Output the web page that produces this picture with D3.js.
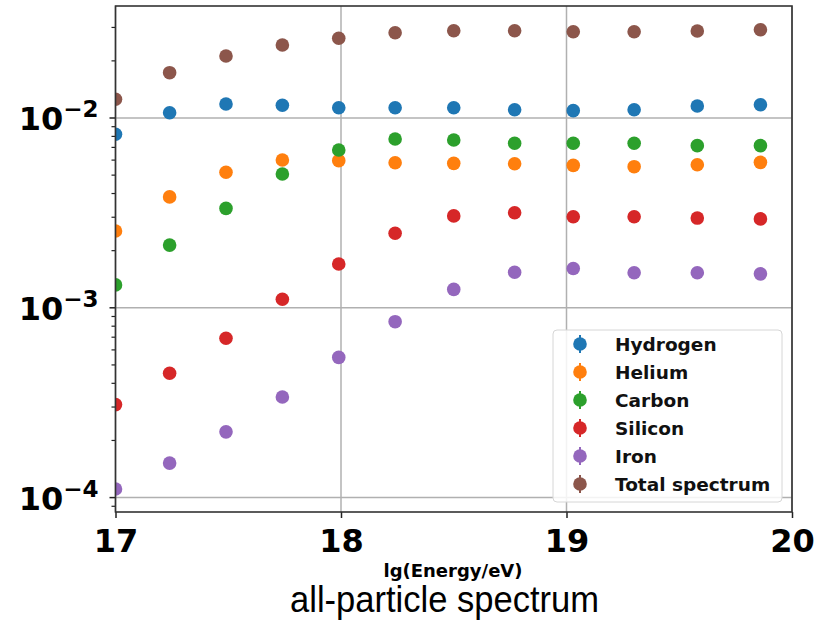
<!DOCTYPE html>
<html>
<head>
<meta charset="utf-8">
<script src="https://cdn.jsdelivr.net/npm/d3@7"></script>
<style>
  body { margin: 0; background: #fff; }
  svg { display: block; }
</style>
</head>
<body>
<div id="chart"></div>
<script>
// bin centres, lg(E/eV)
const energies = [17.0, 17.24, 17.49, 17.74, 17.99, 18.24, 18.5, 18.77, 19.03, 19.3, 19.58, 19.86];

const seriesNames = ['Hydrogen', 'Helium', 'Carbon', 'Silicon', 'Iron', 'Total spectrum'];
const seriesColors = ['#1f77b4', '#ff7f0e', '#2ca02c', '#d62728', '#9467bd', '#8c564b'];

const hydrogen = [0.00821, 0.01066, 0.01185, 0.01167, 0.01133, 0.01133, 0.01133, 0.01106, 0.01093, 0.01106, 0.01157, 0.01175];
const helium = [0.00254, 0.00384, 0.00518, 0.00601, 0.00596, 0.00581, 0.00577, 0.00574, 0.00563, 0.00554, 0.00567, 0.00584];
const carbon = [0.00132, 0.00214, 0.00334, 0.00507, 0.00678, 0.00775, 0.00766, 0.00736, 0.00736, 0.00736, 0.00715, 0.00715];
const silicon = [0.000309, 0.000452, 0.000691, 0.00111, 0.00170, 0.00247, 0.00305, 0.00317, 0.00302, 0.00302, 0.00297, 0.00294];
const iron = [0.000111, 0.000152, 0.000222, 0.000339, 0.000548, 0.000845, 0.00125, 0.00154, 0.00161, 0.00153, 0.00153, 0.00151];
const total = [0.01255, 0.01733, 0.02121, 0.02424, 0.0263, 0.02814, 0.02884, 0.02884, 0.02849, 0.02849, 0.02873, 0.02919];

const seriesValues = [hydrogen, helium, carbon, silicon, iron, total];

const xTicks = [17, 18, 19, 20];
const yTicks = [1e-4, 1e-3, 1e-2];
const yTickExponents = ['\u22124', '\u22123', '\u22122'];

const xLabel = 'lg(Energy/eV)';
const title = 'all-particle spectrum';

const width = 819;
const height = 621;
const plot = { left: 115.5, right: 792, top: 6, bottom: 512 };

const svg = d3
  .select('#chart')
  .append('svg')
  .attr('width', width)
  .attr('height', height);

const x = d3.scaleLinear().domain([17, 20]).range([plot.left, plot.right]);
const y = d3
  .scaleLog()
  .domain([Math.pow(10, -4.0759), Math.pow(10, -1.4099)])
  .range([plot.bottom, plot.top]);

// grid
const grid = svg.append('g').attr('stroke', '#b0b0b0').attr('stroke-width', 1.5);
grid
  .selectAll('line.gx')
  .data(xTicks)
  .join('line')
  .attr('class', 'gx')
  .attr('x1', (d) => x(d))
  .attr('x2', (d) => x(d))
  .attr('y1', plot.top)
  .attr('y2', plot.bottom);
grid
  .selectAll('line.gy')
  .data(yTicks)
  .join('line')
  .attr('class', 'gy')
  .attr('x1', plot.left)
  .attr('x2', plot.right)
  .attr('y1', (d) => y(d))
  .attr('y2', (d) => y(d));

// points, clipped to the axes box
svg
  .append('defs')
  .append('clipPath')
  .attr('id', 'plot-clip')
  .append('rect')
  .attr('x', plot.left)
  .attr('y', plot.top)
  .attr('width', plot.right - plot.left)
  .attr('height', plot.bottom - plot.top);

const points = svg.append('g').attr('clip-path', 'url(#plot-clip)');
seriesValues.forEach((values, i) => {
  points
    .append('g')
    .attr('fill', seriesColors[i])
    .selectAll('circle')
    .data(values.map((v, j) => [energies[j], v]))
    .join('circle')
    .attr('cx', (d) => x(d[0]))
    .attr('cy', (d) => y(d[1]))
    .attr('r', 6.8);
});

// axes
const xAxis = svg
  .append('g')
  .attr('transform', `translate(0, ${plot.bottom})`)
  .call(d3.axisBottom(x).tickValues(xTicks).tickSize(6).tickPadding(10).tickFormat(d3.format('d')));
xAxis.select('.domain').remove();
xAxis.selectAll('line').attr('stroke', '#222').attr('stroke-width', 1.5);
xAxis
  .selectAll('text')
  .attr('fill', '#000')
  .style('font-family', 'DejaVu Sans')
  .style('font-weight', 'bold')
  .style('font-size', '32px')
  .attr('dy', null)
  .attr('y', 40);

const yMinor = [];
for (let e = -5; e <= -1; e++) {
  for (let k = 2; k <= 9; k++) {
    const v = k * Math.pow(10, e);
    if (v >= y.domain()[0] && v <= y.domain()[1]) yMinor.push(v);
  }
}
const yAxis = svg.append('g').attr('transform', `translate(${plot.left}, 0)`);
yAxis
  .selectAll('line.major')
  .data(yTicks)
  .join('line')
  .attr('class', 'major')
  .attr('x1', -6)
  .attr('x2', 0)
  .attr('y1', (d) => y(d))
  .attr('y2', (d) => y(d))
  .attr('stroke', '#222')
  .attr('stroke-width', 1.5);
yAxis
  .selectAll('line.minor')
  .data(yMinor)
  .join('line')
  .attr('class', 'minor')
  .attr('x1', -4)
  .attr('x2', 0)
  .attr('y1', (d) => y(d))
  .attr('y2', (d) => y(d))
  .attr('stroke', '#222')
  .attr('stroke-width', 1.2);

const yLabels = yAxis
  .selectAll('text')
  .data(yTicks)
  .join('text')
  .attr('x', -17)
  .attr('y', (d) => y(d) + 12)
  .attr('text-anchor', 'end')
  .style('font-family', 'DejaVu Sans')
  .style('font-weight', 'bold')
  .style('font-size', '32px');
yLabels.append('tspan').text('10');
yLabels
  .append('tspan')
  .attr('dy', -13)
  .style('font-size', '23px')
  .text((d, i) => yTickExponents[i]);

// spines
svg
  .append('rect')
  .attr('x', plot.left)
  .attr('y', plot.top)
  .attr('width', plot.right - plot.left)
  .attr('height', plot.bottom - plot.top)
  .attr('fill', 'none')
  .attr('stroke', '#333')
  .attr('stroke-width', 1.6);

// legend
const legend = svg.append('g').attr('transform', 'translate(553, 330)');
legend
  .append('rect')
  .attr('width', 229)
  .attr('height', 172)
  .attr('rx', 4)
  .attr('fill', '#fff')
  .attr('fill-opacity', 0.85)
  .attr('stroke', '#d6d6d6');
const entries = legend
  .selectAll('g.entry')
  .data(seriesNames)
  .join('g')
  .attr('class', 'entry')
  .attr('transform', (d, i) => `translate(27, ${14 + i * 28})`);
entries
  .append('line')
  .attr('y1', -9)
  .attr('y2', 9)
  .attr('stroke', (d, i) => seriesColors[i])
  .attr('stroke-width', 2);
entries
  .append('circle')
  .attr('r', 6.8)
  .attr('fill', (d, i) => seriesColors[i]);
entries
  .append('text')
  .attr('x', 35)
  .attr('y', 6.5)
  .text((d) => d)
  .style('font-family', 'DejaVu Sans')
  .style('font-weight', 'bold')
  .style('font-size', '18.5px')
  .attr('fill', '#111');

// axis label and caption
svg
  .append('text')
  .attr('x', 453)
  .attr('y', 577)
  .attr('text-anchor', 'middle')
  .style('font-family', 'DejaVu Sans')
  .style('font-weight', 'bold')
  .style('font-size', '18px')
  .text(xLabel);

svg
  .append('text')
  .attr('x', 290)
  .attr('y', 612)
  .attr('textLength', 309)
  .attr('lengthAdjust', 'spacingAndGlyphs')
  .style('font-family', 'Liberation Sans')
  .style('font-size', '37px')
  .text(title);
</script>
</body>
</html>
